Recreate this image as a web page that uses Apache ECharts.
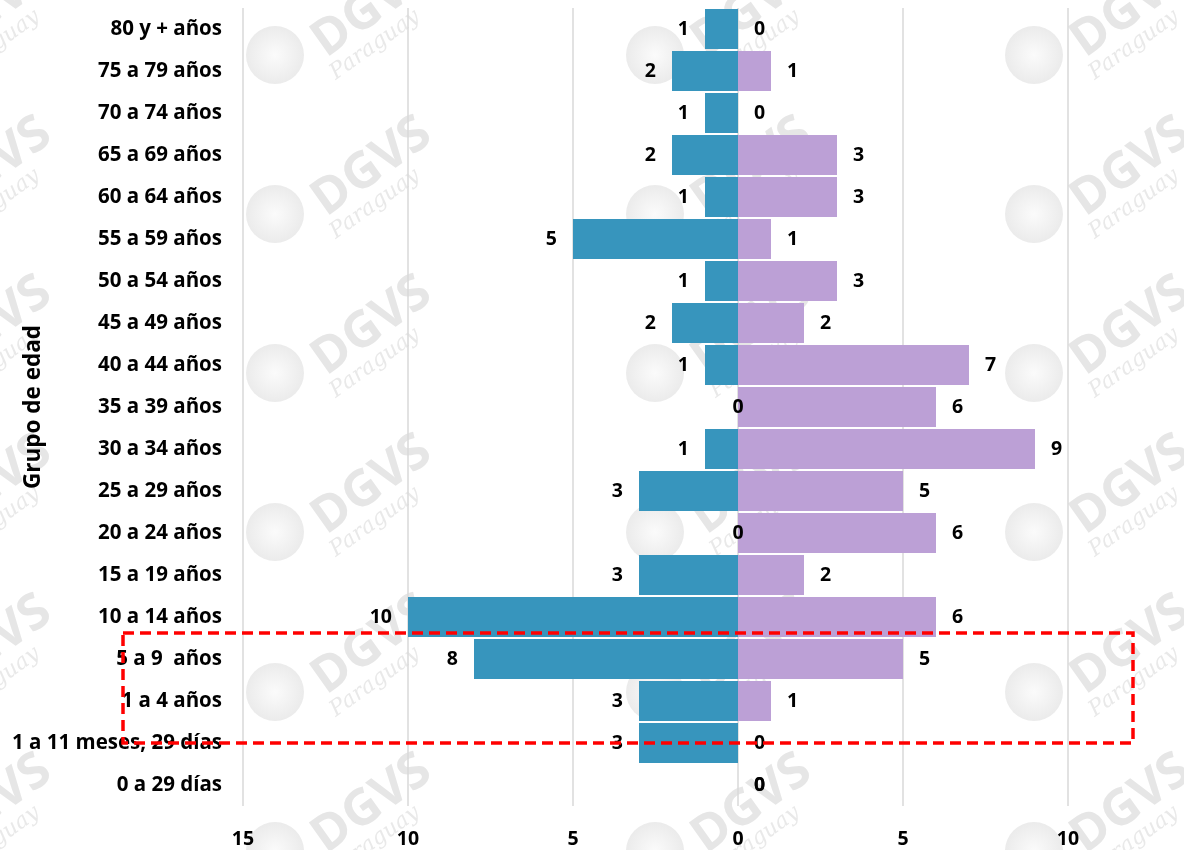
<!DOCTYPE html>
<html>
<head>
<meta charset="utf-8">
<script src="https://cdn.jsdelivr.net/npm/echarts@6/dist/echarts.min.js"></script>
<style>
html,body{margin:0;padding:0;background:#fff;}
#chart{width:1184px;height:850px;}
</style>
</head>
<body>
<div id="chart"></div>
<script>
const categories = ['80 y + años','75 a 79 años','70 a 74 años','65 a 69 años','60 a 64 años','55 a 59 años','50 a 54 años','45 a 49 años','40 a 44 años','35 a 39 años','30 a 34 años','25 a 29 años','20 a 24 años','15 a 19 años','10 a 14 años','5 a 9  años','1 a 4 años','1 a 11 meses, 29 días','0 a 29 días'];
const leftValues = [1,2,1,2,1,5,1,2,1,0,1,3,0,3,10,8,3,3,0];
const rightValues = [0,1,0,3,3,1,3,2,7,6,9,5,6,2,6,5,1,0,0];
const xTicks = [-15,-10,-5,0,5,10];
const yAxisTitle = 'Grupo de edad';

const FONT = '"Open Sans"';
const blue = '#3795bd';
const purple = '#bca0d6';

const leftData = leftValues.map((v, i) => {
  const item = { value: -v };
  if (v === 0) {
    if (i === leftValues.length - 1) {
      item.label = { position: 'right', distance: 16 };
    } else {
      item.label = { position: 'inside' };
    }
  }
  return item;
});

// decorative watermark
const wmCols = [-105, 275, 655, 1034];
const wmRows = [55, 214, 373, 532, 692, 851];
const watermark = [];
wmCols.forEach(cx => wmRows.forEach(cy => {
  watermark.push({
    type: 'group', x: cx, y: cy, z: -5, silent: true,
    children: [
      { type: 'circle', shape: { cx: 0, cy: 0, r: 29 }, z: -5,
        style: { fill: { type: 'radial', x: 0.5, y: 0.5, r: 0.5,
          colorStops: [{ offset: 0, color: '#fbfbfb' }, { offset: 1, color: '#ebebeb' }] } } },
      { type: 'text', x: 97, y: -47, rotation: 0.62, z: -5,
        style: { text: 'DGVS', font: 'bold 50px "Open Sans"', fill: '#e6e6e6', align: 'center', verticalAlign: 'middle' } },
      { type: 'text', x: 100, y: -10, rotation: 0.62, z: -5,
        style: { text: 'Paraguay', font: 'italic 22px "DejaVu Serif"', fill: '#e9e9e9', align: 'center', verticalAlign: 'middle' } }
    ]
  });
}));

const chart = echarts.init(document.getElementById('chart'));
chart.setOption({
  animation: false,
  backgroundColor: '#fff',
  grid: { left: 243, right: 116, top: 8, bottom: 44, containLabel: false, outerBoundsMode: 'none' },
  xAxis: {
    type: 'value', min: xTicks[0], max: xTicks[xTicks.length - 1], interval: 5,
    axisLine: { show: false }, axisTick: { show: false },
    splitLine: { show: true, lineStyle: { color: '#d9d9d9', width: 1.5 } },
    axisLabel: { formatter: v => String(Math.abs(v)), color: '#000', fontFamily: FONT, fontWeight: 'bold', fontSize: 19.5, margin: 23 }
  },
  yAxis: {
    type: 'category', data: categories, inverse: true,
    axisLine: { show: false }, axisTick: { show: false },
    axisLabel: { color: '#000', fontFamily: FONT, fontWeight: 'bold', fontSize: 20.5, margin: 21 },
    name: yAxisTitle, nameLocation: 'middle', nameGap: 198, nameRotate: 90, nameMoveOverlap: false,
    nameTextStyle: { color: '#000', fontFamily: FONT, fontWeight: 'bold', fontSize: 22.5 }
  },
  series: [
    {
      name: 'Izquierda', type: 'bar', data: leftData, barGap: '-100%', barCategoryGap: '5%',
      itemStyle: { color: blue },
      label: { show: true, position: 'left', distance: 16, formatter: p => String(Math.abs(p.value)),
        color: '#000', fontFamily: FONT, fontWeight: 'bold', fontSize: 19.5 }
    },
    {
      name: 'Derecha', type: 'bar', data: rightValues, barGap: '-100%', barCategoryGap: '5%',
      itemStyle: { color: purple },
      label: { show: true, position: 'right', distance: 16,
        color: '#000', fontFamily: FONT, fontWeight: 'bold', fontSize: 19.5 }
    }
  ],
  graphic: watermark.concat([
    { type: 'rect', z: 100, silent: true,
      shape: { x: 123, y: 633, width: 1010, height: 110 },
      style: { fill: 'none', stroke: '#ff0000', lineWidth: 3.5, lineDash: [11, 6] } }
  ])
});
</script>
</body>
</html>
